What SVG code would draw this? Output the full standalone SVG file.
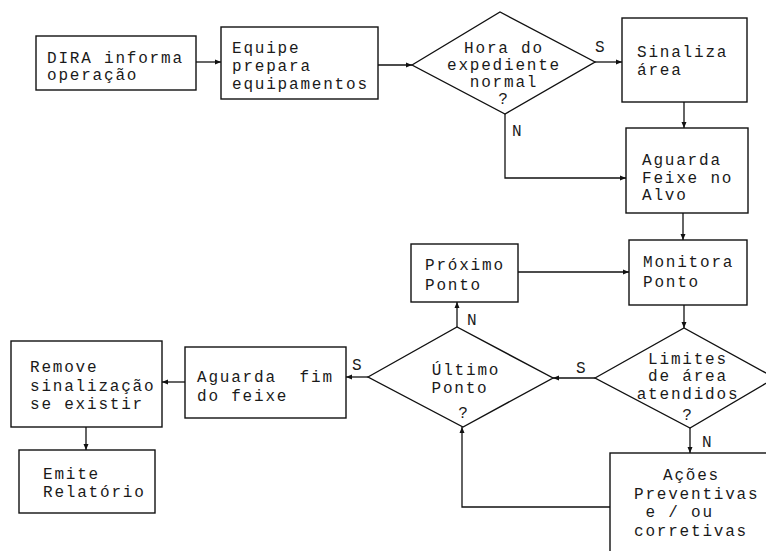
<svg xmlns="http://www.w3.org/2000/svg" width="766" height="551" viewBox="0 0 766 551">
  <defs>
    <marker id="arrow" markerUnits="userSpaceOnUse" markerWidth="7" markerHeight="6" refX="6" refY="3" orient="auto">
      <path d="M0,0.5 L6,3 L0,5.5 z" fill="#111"/>
    </marker>
    <style>
      .box { fill: #fff; stroke: #111; stroke-width: 1.4; }
      .edge { fill: none; stroke: #111; stroke-width: 1.3; }
      .arr { marker-end: url(#arrow); }
      text { font-family: "Liberation Mono", "Courier New", monospace; font-size: 16px; letter-spacing: 1.8px; fill: #1a1a1a; white-space: pre; }
      .mid { text-anchor: middle; }
    </style>
  </defs>
  <rect width="766" height="551" fill="#fff"/>

  <!-- connectors -->
  <g id="connectors">
    <line class="edge arr" x1="196" y1="62" x2="221" y2="62"/>
    <line class="edge arr" x1="378" y1="65" x2="412" y2="65"/>
    <line class="edge arr" x1="595" y1="62" x2="622" y2="62"/>
    <path class="edge arr" d="M505,114 V178 H626"/>
    <line class="edge arr" x1="684" y1="102" x2="684" y2="128"/>
    <line class="edge arr" x1="683" y1="213" x2="683" y2="240"/>
    <line class="edge arr" x1="518" y1="272" x2="629" y2="272"/>
    <line class="edge arr" x1="684" y1="305" x2="684" y2="328"/>
    <line class="edge arr" x1="595" y1="378" x2="553" y2="378"/>
    <line class="edge arr" x1="457" y1="327" x2="457" y2="302"/>
    <line class="edge arr" x1="368" y1="377" x2="346" y2="377"/>
    <line class="edge arr" x1="185" y1="382" x2="162" y2="382"/>
    <line class="edge arr" x1="86" y1="427" x2="86" y2="450"/>
    <line class="edge arr" x1="690" y1="428" x2="690" y2="453"/>
    <path class="edge arr" d="M610,507 H462 V427"/>
    <!-- branch labels -->
    <text x="595" y="52">S</text>
    <text x="512" y="136">N</text>
    <text x="576" y="373">S</text>
    <text x="467" y="325">N</text>
    <text x="352" y="370">S</text>
    <text x="702" y="447">N</text>
  </g>

  <g id="dira">
    <rect class="box" x="36" y="36" width="160" height="54"/>
    <text x="47" y="63">DIRA informa</text>
    <text x="47" y="80">operação</text>
  </g>

  <g id="equipe">
    <rect class="box" x="221" y="27" width="157" height="72"/>
    <text x="232" y="53">Equipe</text>
    <text x="232" y="71">prepara</text>
    <text x="232" y="89">equipamentos</text>
  </g>

  <g id="hora">
    <polygon class="box" points="412,65 500,12 595,62 505,114"/>
    <text class="mid" x="504" y="53">Hora do</text>
    <text class="mid" x="504" y="70">expediente</text>
    <text class="mid" x="504" y="87">normal</text>
    <text class="mid" x="504" y="104">?</text>
  </g>

  <g id="sinaliza">
    <rect class="box" x="622" y="18" width="125" height="84"/>
    <text x="637" y="57">Sinaliza</text>
    <text x="637" y="75">área</text>
  </g>

  <g id="aguarda-feixe">
    <rect class="box" x="626" y="128" width="122" height="85"/>
    <text x="642" y="165">Aguarda</text>
    <text x="642" y="183">Feixe no</text>
    <text x="642" y="200">Alvo</text>
  </g>

  <g id="monitora">
    <rect class="box" x="629" y="240" width="118" height="65"/>
    <text x="643" y="267">Monitora</text>
    <text x="643" y="287">Ponto</text>
  </g>

  <g id="proximo">
    <rect class="box" x="411" y="244" width="107" height="58"/>
    <text x="425" y="270">Próximo</text>
    <text x="425" y="290">Ponto</text>
  </g>

  <g id="limites">
    <polygon class="box" points="595,378 684,328 775,378 690,428"/>
    <text class="mid" x="688" y="364">Limites</text>
    <text class="mid" x="688" y="381">de área</text>
    <text class="mid" x="688" y="399">atendidos</text>
    <text class="mid" x="688" y="420">?</text>
  </g>

  <g id="ultimo">
    <polygon class="box" points="368,377 457,327 553,378 463,427"/>
    <text class="mid" x="466" y="375">Último</text>
    <text class="mid" x="460" y="393">Ponto</text>
    <text class="mid" x="464" y="418">?</text>
  </g>

  <g id="aguarda-fim">
    <rect class="box" x="185" y="347" width="161" height="71"/>
    <text x="197" y="382">Aguarda  fim</text>
    <text x="197" y="401">do feixe</text>
  </g>

  <g id="remove">
    <rect class="box" x="11" y="341" width="151" height="86"/>
    <text x="30" y="372">Remove</text>
    <text x="30" y="391">sinalização</text>
    <text x="30" y="409">se existir</text>
  </g>

  <g id="emite">
    <rect class="box" x="19" y="450" width="136" height="63"/>
    <text x="43" y="479">Emite</text>
    <text x="43" y="497">Relatório</text>
  </g>

  <g id="acoes">
    <rect class="box" x="610" y="453" width="200" height="150"/>
    <text x="663" y="480">Ações</text>
    <text x="634" y="499">Preventivas</text>
    <text x="634" y="517"> e / ou</text>
    <text x="634" y="536">corretivas</text>
  </g>
</svg>
